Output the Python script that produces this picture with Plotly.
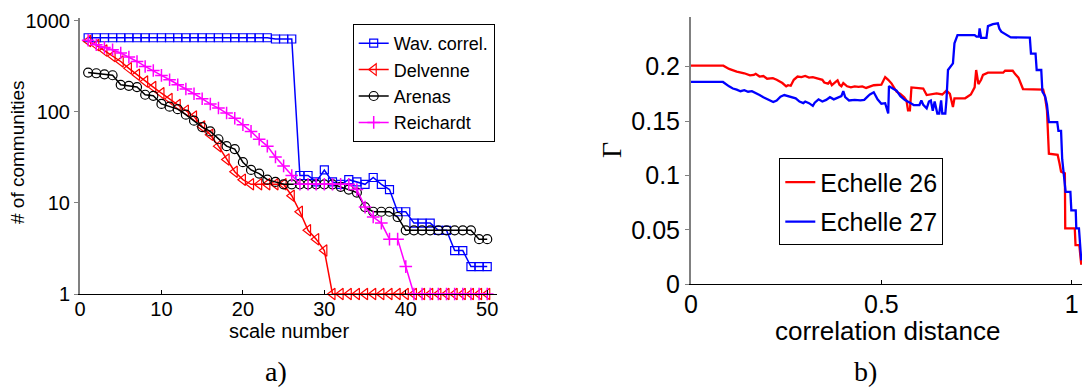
import plotly.graph_objects as go

# ---------------- data: panel a) ----------------
scales = list(range(1, 51))
wav_correl = [650]*23 + [630, 630, 630] + [20, 20, 17, 23, 17, 16, 18, 17, 16, 19, 16, 14, 8, 8, 6, 6, 6, 5, 5, 3, 3, 2, 2, 2]
delvenne = [600, 540, 470, 410, 357, 300, 255, 215, 187, 160, 138, 119, 103, 89, 69, 56, 42, 30, 22, 18,
            16, 16, 16, 16, 16, 12, 8, 5, 4, 3] + [1]*20
arenas = [270, 265, 258, 252, 198, 193, 187, 154, 150, 122, 114, 107, 93, 80, 68, 61, 50, 42, 39, 28,
          23, 21, 18, 17, 16, 16, 16, 16, 16, 16, 16, 15, 14, 13, 9, 8, 8, 8, 7, 5,
          5, 5, 5, 5, 5, 5, 5, 5, 4, 4]
reichardt = [610, 545, 509, 480, 442, 399, 357, 315, 284, 251, 225, 198, 178, 158, 139, 122, 110, 97, 85, 72,
             61, 50, 42, 32, 25.5, 20, 16, 16, 16, 16, 16, 16, 16, 14, 9, 7, 6, 4, 4, 2] + [1]*10
a_xticks = [0, 10, 20, 30, 40, 50]
a_yticks = [1, 10, 100, 1000]

# ---------------- data: panel b) ----------------
e26_x = [0, 0.085, 0.10, 0.12, 0.14, 0.155, 0.165, 0.17, 0.18, 0.19, 0.20, 0.215, 0.225, 0.24, 0.25, 0.255,
         0.262, 0.27, 0.28, 0.29, 0.30, 0.31, 0.32, 0.33, 0.345, 0.35, 0.36, 0.365, 0.37, 0.38, 0.385, 0.39,
         0.395, 0.40, 0.41, 0.42, 0.43, 0.44, 0.45, 0.46, 0.47, 0.48, 0.50, 0.51, 0.518, 0.527, 0.54, 0.55,
         0.56, 0.566, 0.57, 0.575, 0.579, 0.59, 0.61, 0.619, 0.63, 0.645, 0.66, 0.671, 0.68, 0.684, 0.688,
         0.692, 0.72, 0.735, 0.745, 0.749, 0.755, 0.762, 0.767, 0.78, 0.82, 0.825, 0.845, 0.852, 0.86, 0.872,
         0.925, 0.93, 0.935, 0.94, 0.963, 0.968, 0.972, 0.982, 0.983, 1.008, 1.01, 1.02, 1.025]
e26_y = [0.201, 0.201, 0.198, 0.1955, 0.194, 0.192, 0.1925, 0.1935, 0.191, 0.1915, 0.189, 0.1895, 0.188,
         0.185, 0.182, 0.183, 0.1825, 0.188, 0.191, 0.1905, 0.1915, 0.19, 0.1905, 0.1895, 0.188, 0.1855,
         0.1845, 0.1865, 0.183, 0.186, 0.1875, 0.1835, 0.182, 0.185, 0.182, 0.181, 0.182, 0.1815, 0.182,
         0.1805, 0.182, 0.183, 0.1835, 0.1905, 0.188, 0.1845, 0.177, 0.175, 0.172, 0.169, 0.16, 0.16, 0.181,
         0.1805, 0.18, 0.174, 0.1745, 0.1755, 0.1745, 0.178, 0.175, 0.169, 0.163, 0.171, 0.171, 0.1745, 0.181,
         0.197, 0.184, 0.188, 0.1925, 0.1945, 0.1945, 0.1963, 0.1963, 0.193, 0.19, 0.1795, 0.179, 0.172, 0.16,
         0.12, 0.119, 0.111, 0.1035, 0.102, 0.0515, 0.0515, 0.036, 0.036, 0.018]
e27_x = [0, 0.084, 0.10, 0.11, 0.12, 0.13, 0.14, 0.15, 0.16, 0.17, 0.18, 0.19, 0.20, 0.21, 0.216, 0.225,
         0.235, 0.245, 0.255, 0.265, 0.275, 0.285, 0.295, 0.30, 0.31, 0.32, 0.325, 0.335, 0.345, 0.355, 0.365,
         0.375, 0.385, 0.395, 0.40, 0.405, 0.415, 0.43, 0.445, 0.455, 0.465, 0.47, 0.48, 0.49, 0.50, 0.51,
         0.518, 0.52, 0.53, 0.54, 0.55, 0.562, 0.575, 0.585, 0.60, 0.605, 0.61, 0.619, 0.625, 0.63, 0.635,
         0.64, 0.647, 0.652, 0.657, 0.66, 0.668, 0.671, 0.675, 0.688, 0.692, 0.70, 0.745, 0.75, 0.756, 0.758,
         0.762, 0.776, 0.78, 0.793, 0.806, 0.81, 0.815, 0.84, 0.89, 0.893, 0.905, 0.908, 0.92, 0.923, 0.93,
         0.935, 0.94, 0.962, 0.965, 0.972, 0.975, 0.98, 0.984, 0.9965, 0.999, 1.0105, 1.012, 1.019, 1.025]
e27_y = [0.186, 0.186, 0.182, 0.180, 0.179, 0.1775, 0.1785, 0.177, 0.1775, 0.176, 0.174, 0.172, 0.170, 0.168,
         0.1675, 0.169, 0.1725, 0.174, 0.173, 0.1725, 0.171, 0.168, 0.1665, 0.168, 0.1665, 0.164, 0.167, 0.17,
         0.168, 0.1695, 0.172, 0.170, 0.1715, 0.173, 0.1775, 0.172, 0.169, 0.1695, 0.169, 0.1695, 0.173,
         0.1745, 0.1765, 0.17, 0.166, 0.1665, 0.157, 0.1822, 0.180, 0.178, 0.173, 0.1694, 0.167, 0.1648,
         0.1648, 0.169, 0.165, 0.1618, 0.168, 0.169, 0.1595, 0.168, 0.157, 0.157, 0.169, 0.157, 0.157, 0.1694,
         0.197, 0.2031, 0.2215, 0.2291, 0.2291, 0.2276, 0.2276, 0.2353, 0.2266, 0.2266, 0.2374, 0.2392, 0.2399,
         0.235, 0.2322, 0.227, 0.2267, 0.212, 0.212, 0.197, 0.197, 0.177, 0.173, 0.165, 0.149, 0.149, 0.141,
         0.141, 0.115, 0.095, 0.085, 0.085, 0.068, 0.068, 0.0515, 0.0515, 0.022]
b_xticks = [0, 0.5, 1]
b_xtext = ["0", "0.5", "1"]
b_yticks = [0, 0.05, 0.1, 0.15, 0.2]
b_ytext = ["0", "0.05", "0.1", "0.15", "0.2"]

W, H = 1082, 387
SANS = "Liberation Sans, Arial, sans-serif"
SERIF = "Liberation Serif, Times New Roman, serif"

def px(X):
    return X / W

def py(Y):
    return 1 - Y / H

fig = go.Figure()

fig.add_trace(go.Scatter(x=scales, y=wav_correl, name="Wav. correl.", mode="lines+markers",
                         line=dict(color="#0000FF", width=1.5), cliponaxis=False,
                         marker=dict(symbol="square-open", color="#0000FF", size=8, line=dict(width=1.2)),
                         xaxis="x", yaxis="y", legend="legend"))
fig.add_trace(go.Scatter(x=scales, y=delvenne, name="Delvenne", mode="lines+markers",
                         line=dict(color="#FF0000", width=1.5), cliponaxis=False,
                         marker=dict(symbol="triangle-left-open", color="#FF0000", size=10, line=dict(width=1.2)),
                         xaxis="x", yaxis="y", legend="legend"))
fig.add_trace(go.Scatter(x=scales, y=arenas, name="Arenas", mode="lines+markers",
                         line=dict(color="#000000", width=1.5), cliponaxis=False,
                         marker=dict(symbol="circle-open", color="#000000", size=9, line=dict(width=1.2)),
                         xaxis="x", yaxis="y", legend="legend"))
fig.add_trace(go.Scatter(x=scales, y=reichardt, name="Reichardt", mode="lines+markers",
                         line=dict(color="#FF00FF", width=1.5), cliponaxis=False,
                         marker=dict(symbol="cross-thin-open", color="#FF00FF", size=9, line=dict(width=1.5, color="#FF00FF")),
                         xaxis="x", yaxis="y", legend="legend"))

fig.add_trace(go.Scatter(x=e26_x, y=e26_y, name="Echelle 26", mode="lines",
                         line=dict(color="#FF0000", width=2.3),
                         xaxis="x2", yaxis="y2", legend="legend2", legendgroup="g26"))
fig.add_trace(go.Scatter(x=e27_x, y=e27_y, name="Echelle 27", mode="lines",
                         line=dict(color="#0000FF", width=2.3),
                         xaxis="x2", yaxis="y2", legend="legend2", legendgroup="g27"))

axcommon = dict(showgrid=False, zeroline=False, showline=True, mirror=False, automargin=False)

fig.update_layout(
    width=W, height=H, margin=dict(l=0, r=0, t=0, b=0, pad=0, autoexpand=False),
    paper_bgcolor="white", plot_bgcolor="white",
    font=dict(family=SANS, color="black"),
    xaxis=dict(domain=[px(80), px(497)], range=[0, 51.2], tickvals=a_xticks,
               ticks="inside", ticklen=4, tickcolor="black", linecolor="black", linewidth=1,
               ticklabelstandoff=-3,
               tickfont=dict(size=20, family=SANS), anchor="y", **axcommon),
    yaxis=dict(type="log", domain=[py(294), py(18)], range=[0, 3.03], tickvals=a_yticks,
               ticktext=[str(v) for v in a_yticks],
               ticks="outside", ticklen=4, tickcolor="#808080", linecolor="#808080", linewidth=2,
               tickfont=dict(size=20, family=SANS), anchor="x", **axcommon),
    xaxis2=dict(domain=[px(691), 1.0], range=[0, 1.027], tickvals=b_xticks, ticktext=b_xtext,
                ticks="inside", ticklen=4, tickcolor="black", linecolor="black", linewidth=1,
                ticklabelstandoff=-2,
                tickfont=dict(size=25, family=SANS), anchor="y2", **axcommon),
    yaxis2=dict(domain=[py(284.3), py(16.7)], range=[0, 0.246], tickvals=b_yticks, ticktext=b_ytext,
                ticks="outside", ticklen=4, tickcolor="#808080", linecolor="#808080", linewidth=2,
                tickfont=dict(size=25, family=SANS), anchor="x2", **axcommon),
    legend=dict(x=px(352.7), y=py(24), xanchor="left", yanchor="top",
                bgcolor="white", bordercolor="black", borderwidth=1,
                font=dict(size=18, family=SANS), itemwidth=30, tracegroupgap=0),
    legend2=dict(x=px(779.3), y=py(158.3), xanchor="left", yanchor="top",
                 bgcolor="white", bordercolor="black", borderwidth=1,
                 font=dict(size=25, family=SANS), itemwidth=30, tracegroupgap=4),
)

ann = [
    dict(text="# of communities", x=px(18), y=py(152), textangle=-90, font=dict(size=19, family=SANS)),
    dict(text="scale number", x=px(288.5), y=py(331), font=dict(size=20, family=SANS)),
    dict(text="a)", x=px(276), y=py(371), font=dict(size=28, family=SERIF)),
    dict(text="Γ", x=px(611), y=py(150), textangle=-90, font=dict(size=28, family=SERIF)),
    dict(text="correlation distance", x=px(887), y=py(331), font=dict(size=26, family=SANS)),
    dict(text="b)", x=px(865), y=py(371), font=dict(size=28, family=SERIF)),
]
for a in ann:
    fig.add_annotation(xref="paper", yref="paper", xanchor="center", yanchor="middle",
                       showarrow=False, **a)

fig.write_html("out.html", config={"displayModeBar": False},
               post_script="document.body.style.margin='0px';document.body.style.padding='0px';")
